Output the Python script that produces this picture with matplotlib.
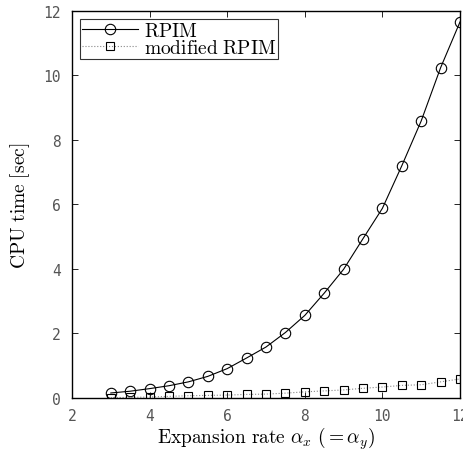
import matplotlib
matplotlib.use("Agg")
import matplotlib.pyplot as plt

plt.rcParams['mathtext.fontset'] = 'cm'

x = [3, 3.5, 4, 4.5, 5, 5.5, 6, 6.5, 7, 7.5, 8, 8.5, 9, 9.5, 10, 10.5, 11, 11.5, 12]
rpim = [0.155, 0.21, 0.29, 0.38, 0.50, 0.67, 0.91, 1.24, 1.58, 2.03, 2.56, 3.25,
        3.99, 4.94, 5.88, 7.20, 8.59, 10.24, 11.66]
mod_rpim = [0.01, 0.02, 0.03, 0.05, 0.07, 0.08, 0.09, 0.11, 0.12, 0.15, 0.19, 0.22,
            0.25, 0.30, 0.34, 0.39, 0.41, 0.50, 0.59]
xticks = [2, 4, 6, 8, 10, 12]
yticks = [0, 2, 4, 6, 8, 10, 12]

fig = plt.figure(figsize=(4.63, 4.52), dpi=100)
ax = fig.add_axes([0.1555, 0.1173, 0.838, 0.8562])

ax.plot(x, rpim, '-', color='black', lw=0.8, marker='o', ms=7.5,
        mfc='none', mec='black', mew=0.8, label=r'$\mathrm{RPIM}$')
ax.plot(x, mod_rpim, ':', color='#888888', lw=0.8, marker='s', ms=5.5,
        mfc='none', mec='black', mew=0.8, label=r'$\mathrm{modified\ RPIM}$')

ax.set_xlim(2, 12)
ax.set_ylim(0, 12)
ax.set_xticks(xticks)
ax.set_yticks(yticks)
ax.set_xticklabels([str(t) for t in xticks])
ax.set_yticklabels([str(t) for t in yticks])
ax.tick_params(direction='in', top=True, right=True, length=4, width=0.6,
               labelsize=10.5, labelcolor='#555555')
ax.tick_params(axis='x', pad=7)
ax.tick_params(axis='y', pad=8)
for lbl in ax.get_xticklabels() + ax.get_yticklabels():
    lbl.set_family('DejaVu Sans Mono')
for s in ax.spines.values():
    s.set_linewidth(1.0)

ax.set_xlabel(r'$\mathrm{Expansion\ rate}\ \alpha_x\ (=\alpha_y)$', fontsize=14, labelpad=1)
ax.set_ylabel(r'$\mathrm{CPU\ time\ [sec]}$', fontsize=14, labelpad=8)

leg = ax.legend(loc='upper left', fontsize=14, frameon=True, fancybox=False,
                edgecolor='black', borderpad=0.1, handlelength=2.9,
                handletextpad=0.3, labelspacing=-0.1, borderaxespad=0.4)
leg.get_frame().set_linewidth(0.8)

fig.savefig('out.png', dpi=100)
